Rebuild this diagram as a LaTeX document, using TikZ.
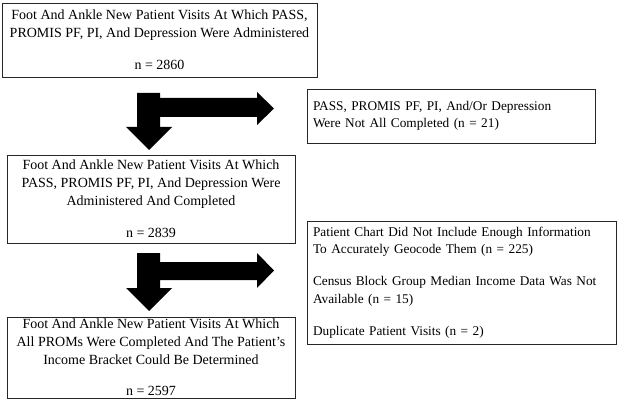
\documentclass[tikz,border=0pt]{standalone}
\usepackage{fontspec}
\setmainfont{Liberation Serif}
\begin{document}
\begin{tikzpicture}[x=1pt,y=-1pt,
  box/.style={draw=black!85, line width=0.9pt, rectangle, inner sep=0pt},
  cbox/.style={box, align=center, font=\fontsize{14}{18}\selectfont},
  lbox/.style={box, align=left, text width=#1, inner xsep=6pt, font=\fontsize{13.3}{17.3}\selectfont},
  blockarrow/.style={fill=black, draw=none}
]
\useasboundingbox (0,0) rectangle (618,406);
% main boxes
\node[cbox, minimum width=315pt, minimum height=74pt] (b1) at (159.5,40)
  {Foot And Ankle New Patient Visits At Which PASS,\\PROMIS PF, PI, And Depression Were Administered\\[14pt]n = 2860};
\node[cbox, minimum width=288pt, minimum height=88pt] (b3) at (151,199)
  {Foot And Ankle New Patient Visits At Which\\PASS, PROMIS PF, PI, And Depression Were\\Administered And Completed\\[14pt]n = 2839};
\node[cbox, minimum width=288pt, minimum height=81pt] (b5) at (151,357.5)
  {Foot And Ankle New Patient Visits At Which\\All PROMs Were Completed And The Patient's\\Income Bracket Could Be Determined\\[13pt]n = 2597};
% exclusion boxes
\node[lbox=276pt, minimum height=54pt] (b2) at (451,116)
  {PASS, PROMIS PF, PI, And/Or Depression\\Were Not All Completed (n = 21)};
\node[lbox=297pt, minimum height=123pt] (b4) at (461.5,282.5)
  {Patient Chart Did Not Include Enough Information\\To Accurately Geocode Them (n = 225)\\[15pt]Census Block Group Median Income Data Was Not\\Available (n = 15)\\[15pt]Duplicate Patient Visits (n = 2)};
% block arrows
\fill[blockarrow] (137,93) -- (160,93) -- (160,98) -- (257,98) -- (257,92) -- (274,108.5)
  -- (257,125) -- (257,117) -- (160,117) -- (160,127) -- (172,127) -- (149,150)
  -- (126,127) -- (137,127) -- cycle;
\fill[blockarrow] (137,253) -- (160,253) -- (160,262) -- (257,262) -- (257,253) -- (274,270.5)
  -- (257,288) -- (257,280) -- (160,280) -- (160,288) -- (172,288) -- (149,311)
  -- (126,288) -- (137,288) -- cycle;
\end{tikzpicture}
\end{document}
